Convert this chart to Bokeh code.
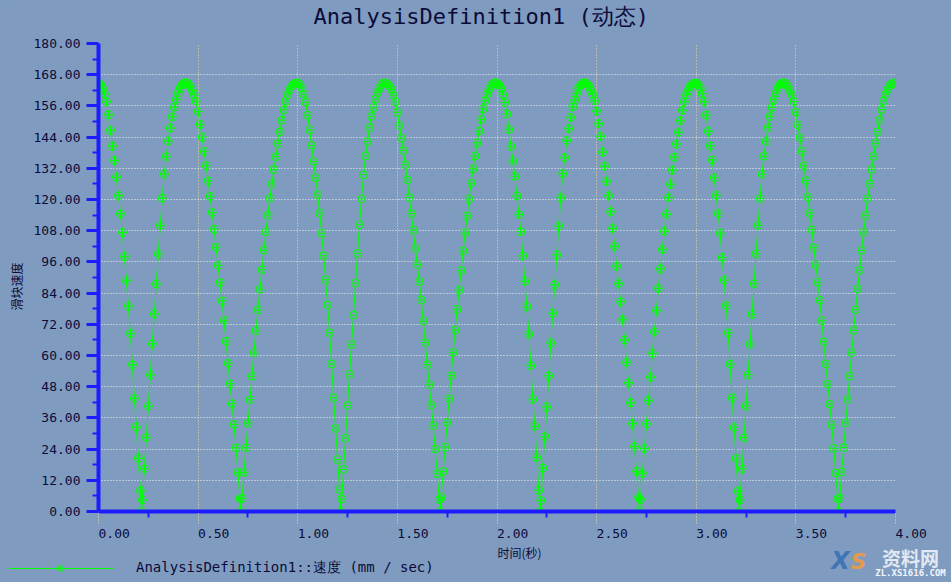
import numpy as np
from bokeh.plotting import figure
from bokeh.layouts import column
from bokeh.models import (Range1d, FixedTicker, PrintfTickFormatter, Title,
                          Legend, LegendItem, ColumnDataSource)
from bokeh.core.properties import value
from bokeh.embed import file_html
from bokeh.resources import INLINE

# ---------------- texts ----------------
title_text = "AnalysisDefinition1 (动态)"
y_label = "滑块速度"
x_label = "时间(秒)"
series_label = "AnalysisDefinition1::速度 (mm / sec)"
watermark_name = "资料网"
watermark_url = "ZL.XS1616.COM"

# ---------------- ticks ----------------
x_ticks = [0.0, 0.5, 1.0, 1.5, 2.0, 2.5, 3.0, 3.5, 4.0]
x_minor = [0.25, 0.75, 1.25, 1.75, 2.25, 2.75, 3.25, 3.75]
y_ticks = [0, 12, 24, 36, 48, 60, 72, 84, 96, 108, 120, 132, 144, 156, 168, 180]
y_minor = [6, 18, 30, 42, 54, 66, 78, 90, 102, 114, 126, 138, 150, 162, 174]

# ---------------- data (mm/sec), sampled every 0.01 s ----------------
sample_step = 0.01
speed_0_1 = [164.8, 164.2, 162.8, 160.6, 157.6, 152.6, 146.5, 140.5, 135.0, 128.6,
             121.5, 114.5, 107.3, 98.0, 88.8, 79.0, 68.5, 56.5, 43.5, 32.5,
             20.5, 8.0, 4.5, 16.5, 28.5, 40.5, 52.5, 64.5, 76.0, 87.5,
             99.0, 110.0, 120.5, 129.8, 136.5, 142.5, 147.5, 151.8, 155.5, 158.5,
             161.0, 162.9, 164.1, 164.8, 164.9, 164.5, 163.6, 162.2, 160.3, 157.8,
             153.8, 148.9, 144.0, 138.5, 133.1, 127.2, 121.2, 115.0, 108.6, 101.7,
             94.7, 88.0, 81.0, 73.5, 65.5, 57.0, 49.2, 41.5, 33.5, 24.5,
             15.0, 5.0, 5.0, 15.0, 24.5, 34.0, 43.0, 52.0, 61.0, 69.5,
             77.5, 85.5, 93.0, 100.5, 107.5, 114.0, 120.5, 126.0, 131.5, 136.5,
             141.5, 146.0, 150.5, 154.5, 157.8, 160.3, 162.2, 163.6, 164.4, 164.8]
speed_1_2 = [164.8, 164.3, 162.9, 160.5, 157.4, 152.4, 146.8, 140.8, 134.6, 128.3,
             121.8, 114.8, 107.0, 98.4, 89.2, 79.4, 68.8, 56.8, 43.8, 32.0,
             20.0, 8.4, 4.8, 16.2, 28.2, 40.8, 52.8, 64.2, 75.6, 87.8,
             99.3, 110.3, 120.2, 129.5, 136.8, 142.3, 147.6, 152.0, 155.3, 158.6,
             161.1, 162.8, 164.2, 164.8, 164.8, 164.4, 163.5, 162.3, 160.1, 157.5,
             153.5, 148.5, 143.6, 138.8, 133.4, 127.5, 120.8, 114.6, 108.2, 101.3,
             95.0, 88.4, 81.3, 73.2, 65.0, 56.5, 48.8, 41.0, 33.0, 24.0,
             14.5, 4.5, 5.5, 15.4, 24.8, 34.3, 43.4, 52.3, 61.2, 69.8,
             77.8, 85.2, 92.7, 100.2, 107.2, 113.7, 120.2, 126.3, 131.8, 136.8,
             141.8, 146.3, 150.8, 154.8, 158.0, 160.5, 162.4, 163.8, 164.5, 164.9]
speed_2_3 = [164.7, 164.1, 162.7, 160.4, 157.3, 152.9, 146.9, 140.3, 134.8, 128.9,
             121.3, 114.2, 107.6, 98.3, 88.5, 78.7, 68.2, 56.2, 43.2, 32.8,
             20.8, 8.2, 4.2, 16.8, 28.8, 40.2, 52.2, 64.8, 76.3, 87.2,
             98.7, 109.7, 120.8, 130.0, 136.2, 142.7, 147.3, 151.6, 155.7, 158.3,
             160.8, 163.0, 164.0, 164.7, 164.9, 164.6, 163.7, 162.0, 160.5, 158.0,
             154.0, 149.2, 144.3, 138.2, 132.8, 127.0, 121.5, 115.3, 108.9, 102.0,
             94.4, 87.7, 80.7, 73.8, 66.0, 57.4, 49.5, 41.8, 33.8, 25.0,
             15.4, 5.4, 4.6, 14.7, 24.2, 33.7, 42.7, 51.7, 60.8, 69.2,
             77.2, 85.8, 93.3, 100.8, 107.8, 114.3, 120.8, 125.8, 131.3, 136.3,
             141.3, 145.8, 150.3, 154.3, 157.6, 160.2, 162.0, 163.5, 164.3, 164.7]
speed_3_4 = [164.8, 164.2, 162.9, 160.7, 157.7, 152.5, 146.3, 140.7, 135.2, 128.4,
             121.6, 114.7, 107.1, 97.7, 89.0, 79.2, 68.7, 56.7, 43.7, 32.3,
             20.3, 7.8, 4.4, 16.4, 28.4, 40.6, 52.6, 64.4, 75.8, 87.6,
             99.1, 110.1, 120.4, 129.7, 136.6, 142.4, 147.7, 151.9, 155.4, 158.4,
             160.9, 162.9, 164.2, 164.8, 164.8, 164.5, 163.6, 162.1, 160.2, 157.7,
             153.6, 148.7, 143.8, 138.6, 133.0, 127.3, 121.0, 114.8, 108.4, 101.5,
             94.8, 88.2, 81.2, 73.4, 65.3, 56.8, 49.0, 41.3, 33.3, 24.3,
             14.8, 4.8, 5.2, 15.2, 24.6, 34.1, 43.2, 52.1, 61.1, 69.6,
             77.6, 85.6, 92.8, 100.4, 107.4, 113.9, 120.4, 126.1, 131.6, 136.6,
             141.6, 146.1, 150.6, 154.6, 157.9, 160.4, 162.3, 163.7, 164.4, 164.8]
speed_at_4s = [164.7]
# dead-centre points where the slider stops
cusp_time = [0.216, 0.715, 1.216, 1.715, 2.216, 2.715, 3.216, 3.715]
cusp_speed = [0.0, 0.0, 0.0, 0.0, 0.0, 0.0, 0.0, 0.0]

grid_speed = speed_0_1 + speed_1_2 + speed_2_3 + speed_3_4 + speed_at_4s
grid_time = list(np.round(np.arange(len(grid_speed)) * sample_step, 3))
t_all = np.array(grid_time + cusp_time)
v_all = np.array(grid_speed + cusp_speed)
order = np.argsort(t_all, kind="stable")
source = ColumnDataSource(dict(t=t_all[order], v=v_all[order]))

# ---------------- styling ----------------
BG = "#7f9cc0"
AXIS_BLUE = "#1c1cff"
INK = "#0b0b3a"
GREEN = "#00ff00"
MONO = "DejaVu Sans Mono"
CJK = "Noto Sans CJK SC"


def no_frame_align(fig):
    try:
        fig.frame_align = False
    except Exception:
        pass


def strip(height, top, bottom):
    f = figure(width=951, height=height, x_range=Range1d(0, 951), y_range=Range1d(bottom, top),
               x_axis_type=None, y_axis_type=None, output_backend="svg", toolbar_location=None,
               min_border=0, min_border_left=0, min_border_right=0, min_border_top=0,
               min_border_bottom=0, background_fill_color=BG, border_fill_color=BG,
               outline_line_color=None)
    no_frame_align(f)
    f.grid.visible = False
    return f


# ================= top strip: chart title =================
top = strip(34, 0, 34)
top.text(x=[313], y=[16], text=[title_text], text_font=value(MONO), text_font_size=value("22px"),
         text_align="left", text_baseline="middle", text_color=INK)

# ================= main chart =================
p = figure(width=951, height=509, x_range=Range1d(0, 4), y_range=Range1d(0, 180),
           output_backend="svg", toolbar_location=None,
           min_border_left=98, min_border_right=56, min_border_top=9, min_border_bottom=30,
           background_fill_color=BG, border_fill_color=BG, outline_line_color=None)
no_frame_align(p)

line_r = p.line("t", "v", source=source, line_color=GREEN, line_width=1)
dots_r = p.scatter("t", "v", source=source, marker="circle_cross", size=8,
                   line_color=GREEN, fill_alpha=0, line_width=1)

xt = FixedTicker(ticks=x_ticks, minor_ticks=x_minor)
yt = FixedTicker(ticks=y_ticks, minor_ticks=y_minor)
p.xaxis.ticker = xt
p.yaxis.ticker = yt
p.xgrid.ticker = xt
p.ygrid.ticker = yt
# x labels start at their tick: pad on the left with no-break spaces
p.xaxis.formatter = PrintfTickFormatter(format="\u00a0\u00a0\u00a0\u00a0%.2f")
p.yaxis.formatter = PrintfTickFormatter(format="%.2f")

for ax in (p.xaxis, p.yaxis):
    ax.axis_line_color = AXIS_BLUE
    ax.axis_line_width = 4
    ax.major_tick_in = 0
    ax.major_tick_out = 12
    ax.minor_tick_in = 0
    ax.minor_tick_out = 6
    ax.minor_tick_line_color = AXIS_BLUE
    ax.minor_tick_line_width = 2
    ax.major_label_text_font = MONO
    ax.major_label_text_font_size = "13px"
    ax.major_label_text_color = INK

p.yaxis.major_tick_line_color = AXIS_BLUE
p.yaxis.major_tick_line_width = 3
p.yaxis.major_label_standoff = 6
p.xaxis.major_tick_line_color = "#f3dca8"
p.xaxis.major_tick_line_width = 1
p.xaxis.major_tick_line_dash = "1 2"
p.xaxis.major_label_standoff = 2

p.xgrid.grid_line_color = "#f3d89c"
p.xgrid.grid_line_dash = "1 2"
p.xgrid.grid_line_width = 1
p.ygrid.grid_line_color = "#f4f4f4"
p.ygrid.grid_line_dash = "1 2"
p.ygrid.grid_line_width = 1

# y title
p.add_layout(Title(text=y_label, align="left", offset=201, vertical_align="middle", standoff=10,
                   text_font=CJK, text_font_size="12px", text_font_style="normal",
                   text_color=INK), "left")

# ================= bottom strip: x title, legend, watermark =================
s = strip(39, 543, 582)

s.text(x=[497], y=[551.5], text=[x_label], text_font=value(CJK), text_font_size=value("12px"),
       text_align="left", text_baseline="middle", text_color=INK)

# legend swatch renderers share the series data but stay hidden in this strip
leg_line = s.line("t", "v", source=source, line_color=GREEN, line_width=1, visible=False)
leg_dots = s.scatter("t", "v", source=source, marker="circle_cross", size=8, line_color=GREEN,
                     fill_alpha=0, line_width=1, visible=False)
legend = Legend(items=[LegendItem(label=series_label, renderers=[leg_line, leg_dots])],
                location=(8, 5), orientation="horizontal", glyph_width=105,
                glyph_height=14, label_height=14, label_standoff=23, padding=0, margin=0,
                border_line_color=None, background_fill_alpha=0,
                label_text_font=MONO, label_text_font_size="14px", label_text_color=INK)
s.add_layout(legend)

s.text(x=[840], y=[560], text=["X"], text_font=value("DejaVu Sans"), text_font_style="bold italic",
       text_font_size=value("24px"), text_align="center", text_baseline="middle",
       text_color="#3f74b6")
s.text(x=[858], y=[561], text=["S"], text_font=value("DejaVu Sans"), text_font_style="bold italic",
       text_font_size=value("22px"), text_align="center", text_baseline="middle",
       text_color="#e39a4e")
s.text(x=[910], y=[557], text=[watermark_name], text_font=value(CJK), text_font_style="bold",
       text_font_size=value("19px"), text_align="center", text_baseline="middle",
       text_color="#e2e9f2")
s.text(x=[910], y=[572], text=[watermark_url], text_font=value(MONO), text_font_style="bold",
       text_font_size=value("9px"), text_align="center", text_baseline="middle",
       text_color="#f4f6fa")

layout = column(top, p, s, spacing=0)
html = file_html(layout, INLINE)
html = html.replace("<head>", "<head><style>html, body {background-color: %s;}</style>" % BG, 1)
open("out.html", "w").write(html)
